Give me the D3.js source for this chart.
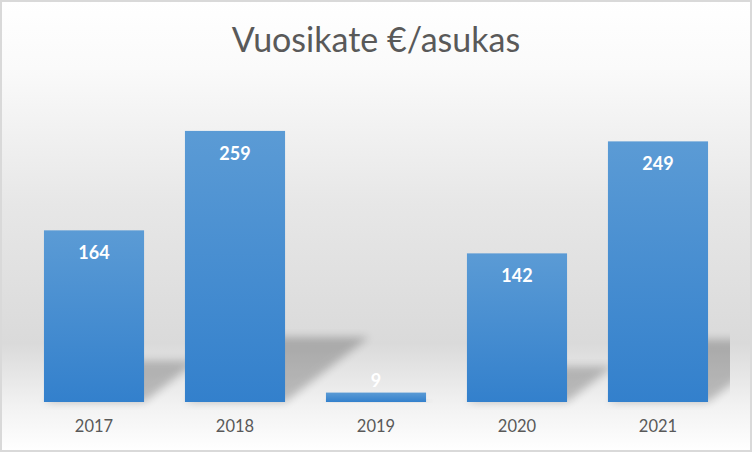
<!DOCTYPE html>
<html>
<head>
<meta charset="utf-8">
<script src="https://cdn.jsdelivr.net/npm/d3@7"></script>
<style>
  body { margin: 0; background: #fff; }
  svg { display: block; }
</style>
</head>
<body>
<div id="chart"></div>
<script>
var title = "Vuosikate €/asukas";
var years = ["2017", "2018", "2019", "2020", "2021"];
var values = [164, 259, 9, 142, 249];
var yDomain = [0, 300];

var width = 752, height = 452;
var base = 402;

var svg = d3.select("#chart")
  .append("svg")
  .attr("width", width)
  .attr("height", height);

var defs = svg.append("defs");

// chart area background
var bg = defs.append("linearGradient")
  .attr("id", "bg")
  .attr("x1", 0).attr("y1", 0).attr("x2", 0).attr("y2", 1);
[[0, "#ffffff"], [0.15, "#fafafa"], [0.45, "#e7e7e7"], [0.76, "#dadada"], [0.9, "#f2f2f2"], [1, "#ffffff"]]
  .forEach(function (s) {
    bg.append("stop").attr("offset", s[0]).attr("stop-color", s[1]);
  });

var barGrad = defs.append("linearGradient")
  .attr("id", "bar")
  .attr("x1", 0).attr("y1", 0).attr("x2", 0).attr("y2", 1);
barGrad.append("stop").attr("offset", 0).attr("stop-color", "#5b9bd5");
barGrad.append("stop").attr("offset", 1).attr("stop-color", "#3380cc");

defs.append("filter")
  .attr("id", "blur")
  .attr("x", "-20%").attr("y", "-20%").attr("width", "140%").attr("height", "140%")
  .append("feGaussianBlur")
  .attr("stdDeviation", 4);

defs.append("clipPath")
  .attr("id", "plot")
  .append("rect")
  .attr("x", 8).attr("y", 70)
  .attr("width", 722).attr("height", 340);

svg.append("rect")
  .attr("x", 1).attr("y", 1)
  .attr("width", width - 2).attr("height", height - 2)
  .attr("fill", "url(#bg)")
  .attr("stroke", "#d9d9d9")
  .attr("stroke-width", 2);

var x = d3.scaleBand()
  .domain(years)
  .range([8, 744])
  .paddingInner(0.29)
  .paddingOuter(0.255);

var y = d3.scaleLinear().domain(yDomain).range([base, 88]);

// perspective shadows
svg.append("g")
  .attr("clip-path", "url(#plot)")
  .selectAll("path")
  .data(values)
  .enter()
  .append("path")
  .attr("d", function (d, i) {
    var x0 = x(years[i]), x1 = x0 + x.bandwidth();
    var h = base - y(d);
    var dx = h * 0.31, sh = h * 0.24;
    return "M" + x0 + "," + base + "L" + x1 + "," + base +
      "L" + (x1 + dx) + "," + (base - sh) + "L" + (x0 + dx) + "," + (base - sh) + "Z";
  })
  .attr("fill", "#000")
  .attr("opacity", 0.22)
  .attr("filter", "url(#blur)");

svg.append("g")
  .selectAll("rect")
  .data(values)
  .enter()
  .append("rect")
  .attr("x", function (d, i) { return x(years[i]); })
  .attr("y", function (d) { return y(d); })
  .attr("width", x.bandwidth())
  .attr("height", function (d) { return base - y(d); })
  .attr("fill", "url(#bar)");

svg.append("g")
  .selectAll("text")
  .data(values)
  .enter()
  .append("text")
  .attr("x", function (d, i) { return x(years[i]) + x.bandwidth() / 2; })
  .attr("y", function (d) {
    return base - y(d) < 30 ? y(d) - 6 : y(d) + 29;
  })
  .attr("text-anchor", "middle")
  .attr("font-family", "Lato, sans-serif")
  .attr("font-weight", "bold")
  .attr("font-size", 18)
  .attr("fill", "#ffffff")
  .text(function (d) { return d; });

var xAxis = svg.append("g")
  .attr("transform", "translate(0," + base + ")")
  .call(d3.axisBottom(x).tickSize(0).tickPadding(18));
xAxis.select(".domain").remove();
xAxis.selectAll("text")
  .attr("font-family", "Lato, sans-serif")
  .attr("font-size", 16.5)
  .attr("fill", "#595959");

svg.append("text")
  .attr("x", width / 2)
  .attr("y", 52)
  .attr("text-anchor", "middle")
  .attr("font-family", "Lato, sans-serif")
  .attr("font-size", 34)
  .attr("fill", "#595959")
  .text(title);
</script>
</body>
</html>
